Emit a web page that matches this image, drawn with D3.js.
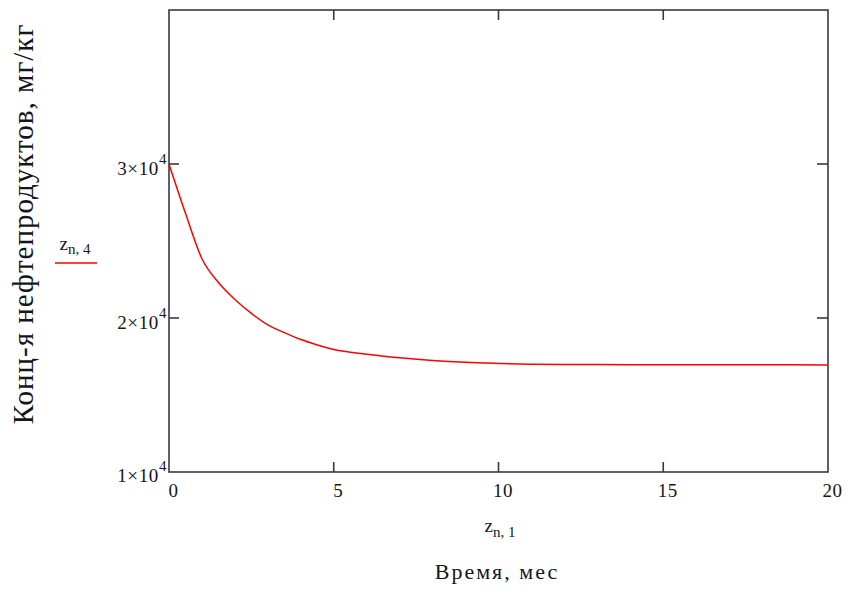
<!DOCTYPE html>
<html>
<head>
<meta charset="utf-8">
<script src="https://cdn.jsdelivr.net/npm/d3@7"></script>
<style>
  body { margin: 0; background: #fff; }
  text { font-family: "Liberation Serif", "Times New Roman", serif; fill: #151520; }
</style>
</head>
<body>
<svg id="chart" width="847" height="591"></svg>
<script>
// время, мес
const months = [0, 0.5, 1, 1.5, 2, 2.5, 3, 3.5, 4, 4.5, 5, 6, 7, 8, 9, 10, 11, 12, 14, 16, 18, 20];
// концентрация, мг/кг
const conc = [30000, 26800, 23850, 22300, 21200, 20300, 19550, 19050, 18600, 18250, 17950,
  17650, 17420, 17240, 17120, 17050, 17000, 16980, 16970, 16960, 16960, 16950];
const xTicks = [0, 5, 10, 15, 20];
const yTicks = [1, 2, 3]; // ×10^4

const svg = d3.select("#chart");
const pL = 169, pR = 828, pT = 10, pB = 472;

const x = d3.scaleLinear().domain([0, 20]).range([pL, pR]);
const y = d3.scaleLinear().domain([10000, 40000]).range([pB, pT]);

// рамка
svg.append("rect")
  .attr("x", pL).attr("y", pT)
  .attr("width", pR - pL).attr("height", pB - pT)
  .attr("fill", "none").attr("stroke", "#3a3a3a").attr("stroke-width", 1.6);

// деления по X (снизу и сверху)
const inner = xTicks.filter(d => d > 0 && d < 20);
svg.selectAll("line.xb").data(inner).enter().append("line")
  .attr("x1", d => x(d)).attr("x2", d => x(d))
  .attr("y1", pB).attr("y2", pB - 10)
  .attr("stroke", "#3a3a3a").attr("stroke-width", 1.6);
svg.selectAll("line.xt").data(inner).enter().append("line")
  .attr("x1", d => x(d)).attr("x2", d => x(d))
  .attr("y1", pT).attr("y2", pT + 10)
  .attr("stroke", "#3a3a3a").attr("stroke-width", 1.6);

// деления по Y (слева и справа)
const yInner = yTicks.filter(d => d > 1);
svg.selectAll("line.yl").data(yInner).enter().append("line")
  .attr("x1", pL).attr("x2", pL + 10)
  .attr("y1", d => y(d * 1e4)).attr("y2", d => y(d * 1e4))
  .attr("stroke", "#3a3a3a").attr("stroke-width", 1.6);
svg.selectAll("line.yr").data(yInner).enter().append("line")
  .attr("x1", pR).attr("x2", pR - 11)
  .attr("y1", d => y(d * 1e4)).attr("y2", d => y(d * 1e4))
  .attr("stroke", "#3a3a3a").attr("stroke-width", 1.6);

// подписи X
svg.selectAll("text.xl").data(xTicks).enter().append("text")
  .attr("x", d => x(d) + 4.5).attr("y", 497)
  .attr("text-anchor", "middle").attr("font-size", "19px")
  .attr("letter-spacing", "0.5px")
  .text(d => d);

// подписи Y
const yl = svg.selectAll("text.yl").data(yTicks).enter().append("text")
  .attr("x", pL - 2).attr("y", d => y(d * 1e4) + (d === 1 ? 10 : 11))
  .attr("text-anchor", "end").attr("font-size", "19px")
  .attr("letter-spacing", "0.6px");
yl.append("tspan").text(d => d + "×10");
yl.append("tspan").attr("dy", -11).attr("font-size", "15px").text("4");

// кривая
const line = d3.line()
  .x((d, i) => x(months[i]))
  .y(d => y(d))
  .curve(d3.curveMonotoneX);
svg.append("path")
  .datum(conc)
  .attr("d", line)
  .attr("fill", "none")
  .attr("stroke", "#ff0000")
  .attr("stroke-width", 1.5);

// z_{n,1}
const zx = svg.append("text").attr("x", 500).attr("y", 532)
  .attr("text-anchor", "middle").attr("font-size", "19px");
zx.append("tspan").text("z");
zx.append("tspan").attr("dy", 5).attr("font-size", "15px").text("n, 1");

svg.append("text")
  .attr("x", 497).attr("y", 579)
  .attr("text-anchor", "middle").attr("font-size", "22px")
  .attr("letter-spacing", "2px")
  .text("Время, мес");

// легенда
const zl = svg.append("text").attr("x", 75).attr("y", 250)
  .attr("text-anchor", "middle").attr("font-size", "19px");
zl.append("tspan").text("z");
zl.append("tspan").attr("dy", 4).attr("font-size", "15px").text("n, 4");
svg.append("line")
  .attr("x1", 55).attr("x2", 97).attr("y1", 263).attr("y2", 263)
  .attr("stroke", "#ff0000").attr("stroke-width", 1.5);

svg.append("text")
  .attr("transform", "translate(33,224) rotate(-90)")
  .attr("text-anchor", "middle").attr("font-size", "29px")
  .attr("letter-spacing", "1px")
  .text("Конц-я нефтепродуктов, мг/кг");
</script>
</body>
</html>
